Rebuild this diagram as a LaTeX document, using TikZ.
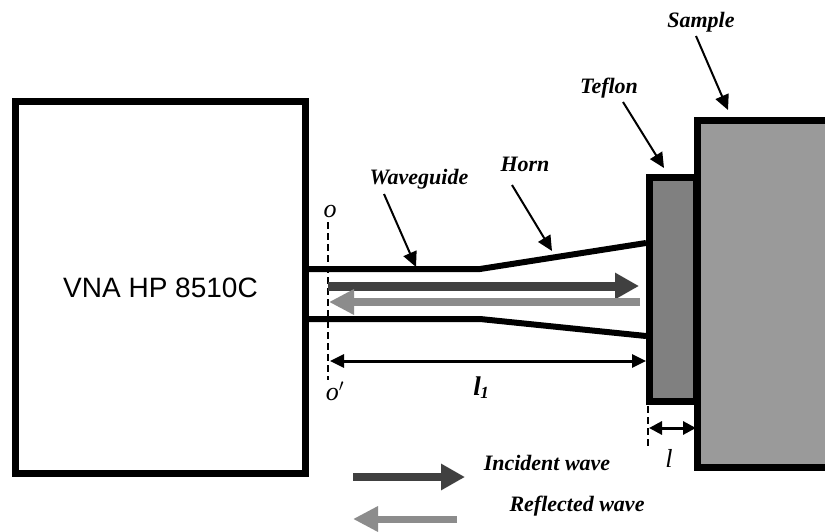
\documentclass[tikz,border=0pt]{standalone}
\usepackage{fontspec}
\setmainfont{Liberation Serif}
\setsansfont{Liberation Sans}
\usetikzlibrary{arrows.meta}
\definecolor{darkwave}{HTML}{404040}
\definecolor{lightwave}{HTML}{8C8C8C}
\definecolor{teflonfill}{HTML}{808080}
\definecolor{samplefill}{HTML}{9A9A9A}
\tikzset{
  x=1pt,y=-1pt,
  blockbox/.style={draw=black,line width=7pt,inner sep=0pt,anchor=north west},
  guide/.style={line width=6pt,line join=round},
  pointer/.style={line width=2pt,-{Triangle[length=15pt,width=14pt]}},
  dim/.style={line width=3pt,{Triangle[length=14pt,width=13pt]}-{Triangle[length=14pt,width=13pt]},shorten <=0pt,shorten >=0pt},
  wavedark/.style={darkwave,line width=9pt,-{Triangle[length=24pt,width=25pt]}},
  wavelight/.style={lightwave,line width=8pt,-{Triangle[length=25pt,width=24pt]}},
  dashedline/.style={line width=1.3pt,dash pattern=on 7pt off 4pt},
  lab/.style={font=\fontsize{22}{24}\selectfont\bfseries\itshape,inner sep=0pt},
}
\begin{document}
\begin{tikzpicture}
\path[use as bounding box,clip] (0,0) rectangle (825,532);
\fill[white] (0,0) rectangle (825,532);
% boxes
\node[blockbox,minimum width=290pt,minimum height=372pt,font=\sffamily\fontsize{28}{30}\selectfont] (vna) at (12,98) {VNA HP 8510C};
\node[blockbox,fill=samplefill,minimum width=140pt,minimum height=347pt] (sample) at (694,117) {};
\node[blockbox,fill=teflonfill,minimum width=47pt,minimum height=224pt] (teflon) at (646,174) {};
% waveguide and horn
\coordinate (wgTopL) at (305,269);
\coordinate (wgTopK) at (480,269);
\coordinate (hornTop) at (646,243);
\coordinate (wgBotL) at (305,319);
\coordinate (wgBotK) at (480,319);
\coordinate (hornBot) at (646,336);
\draw[guide] (wgTopL) -- (wgTopK) -- (hornTop);
\draw[guide] (wgBotL) -- (wgBotK) -- (hornBot);
% dashed reference lines
\coordinate (oT) at (328,222);
\coordinate (oB) at (328,380);
\coordinate (lT) at (648,406);
\coordinate (lB) at (648,448);
\draw[dashedline] (oT) -- (oB);
\draw[dashedline] (lT) -- (lB);
% waves
\coordinate (incA) at (328,286);
\coordinate (incB) at (639,286);
\coordinate (refA) at (640,302);
\coordinate (refB) at (329,302);
\draw[wavedark] (incA) -- (incB);
\draw[wavelight] (refA) -- (refB);
% dimensions
\coordinate (dA) at (330,361);
\coordinate (dB) at (646,361);
\coordinate (eA) at (649,428);
\coordinate (eB) at (696,428);
\draw[dim] (dA) -- (dB);
\draw[line width=3pt,{Triangle[length=13pt,width=13pt]}-{Triangle[length=13pt,width=13pt]}] (eA) -- (eB);
% labels
\node[lab] (wg) at (419,179) {Waveguide};
\node[lab] (horn) at (525,164) {Horn};
\node[lab] (tef) at (609,88) {Teflon};
\node[lab] (sam) at (701,22) {Sample};
\node[lab] (inc) at (547,463) {Incident wave};
\node[lab] (ref) at (577,506) {Reflected wave};
\node[lab,font=\fontsize{27}{30}\selectfont\bfseries\itshape] (l1) at (481,388) {l\kern-0.5pt\raisebox{-3pt}{\fontsize{17}{18}\selectfont 1}};
\node[lab,font=\fontsize{26}{30}\selectfont\itshape] (ll) at (669,458) {l};
\node[lab,font=\fontsize{26}{28}\selectfont\itshape] (o) at (330,212) {o};
\node[lab,font=\fontsize{26}{28}\selectfont\itshape] (op) at (335,391) {o$'$};
% pointers
\coordinate (pWg) at (416,267);
\coordinate (pHorn) at (552,251);
\coordinate (pTef) at (664,168);
\coordinate (pSam) at (728,110);
\coordinate (sWg) at (384,194);
\coordinate (sHorn) at (512,185);
\coordinate (sTef) at (623,102);
\coordinate (sSam) at (696,36);
\draw[pointer] (sWg) -- (pWg);
\draw[pointer] (sHorn) -- (pHorn);
\draw[pointer] (sTef) -- (pTef);
\draw[pointer] (sSam) -- (pSam);
% legend
\coordinate (legDA) at (353,477);
\coordinate (legDB) at (465,477);
\coordinate (legLA) at (457,519);
\coordinate (legLB) at (353,519);
\draw[wavedark,line width=8pt] (legDA) -- (legDB);
\draw[wavelight,line width=7pt] (legLA) -- (legLB);
\end{tikzpicture}
\end{document}
